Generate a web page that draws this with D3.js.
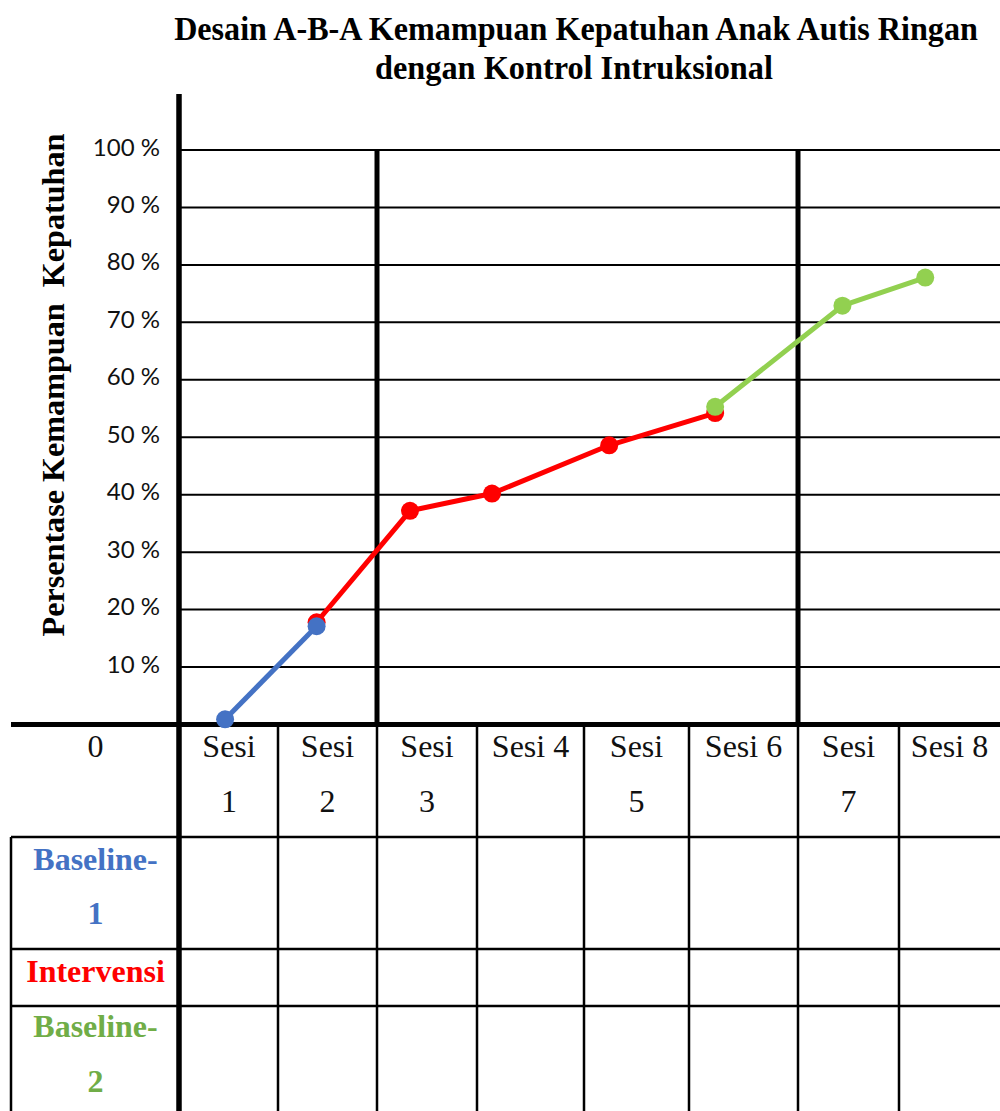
<!DOCTYPE html>
<html>
<head>
<meta charset="utf-8">
<script src="https://cdn.jsdelivr.net/npm/d3@7"></script>
<style>
  body { margin: 0; background: #fff; }
  svg { display: block; }
</style>
</head>
<body>
<svg id="chart" width="1000" height="1111"></svg>
<script>
// ---------------- DATA ----------------
const titleLines = ["Desain A-B-A Kemampuan Kepatuhan Anak Autis Ringan", "dengan Kontrol Intruksional"];
const yAxisTitle = "Persentase Kemampuan  Kepatuhan";
const yTicks = [10, 20, 30, 40, 50, 60, 70, 80, 90, 100];
const yTickLabels = ["10 %", "20 %", "30 %", "40 %", "50 %", "60 %", "70 %", "80 %", "90 %", "100 %"];
const originLabel = "0";
const sessionHeaders = [["Sesi", "1"], ["Sesi", "2"], ["Sesi", "3"], ["Sesi 4"], ["Sesi", "5"], ["Sesi 6"], ["Sesi", "7"], ["Sesi 8"]];
const phaseNames = [["Baseline-", "1"], ["Intervensi"], ["Baseline-", "2"]];
// where each session's marker sits along the session axis (column index + fraction)
const sessionMarkerPos = [0.46, 1.39, 2.33, 3.14, 4.24, 5.24, 6.44, 7.26];
// phase boundaries (between sessions 2|3 and 6|7)
const phaseBoundaries = [2, 6];
// series values (%)
const baseline1Sessions = [0, 1];
const baseline1Values = [0.9, 17.1];
const intervensiSessions = [1, 2, 3, 4, 5];
const intervensiValues = [17.8, 37.2, 40.2, 48.6, 54.2];
const baseline2Sessions = [5, 6, 7];
const baseline2Values = [55.3, 72.9, 77.8];

// ---------------- LAYOUT ----------------
const svg = d3.select("#chart");
const colors = { b1: "#4472C4", iv: "#FF0000", b2: "#92D050", b2text: "#70AD47" };
const labelColors = [colors.b1, colors.iv, colors.b2text];

// session axis: column edges of the table
const x = d3.scaleLinear()
  .domain(d3.range(0, 9))
  .range([180, 278, 377, 477, 584, 689, 798, 899, 1000]);
const y = d3.scaleLinear().domain([0, 100]).range([724.5, 150]);

const tableLeft = 11, tableRight = 1000;
const rowEdges = [724.5, 837, 949, 1006, 1111];

const serif = "'Liberation Serif', 'Times New Roman', serif";

// text squeezed horizontally to a given width (in its own frame)
function fittedText(parent, str, cx, cy, rotate, size, width) {
  const g = parent.append("g").attr("transform", `translate(${cx},${cy}) rotate(${rotate})`);
  const t = g.append("text")
    .attr("text-anchor", "middle")
    .attr("font-family", serif).attr("font-weight", "bold").attr("font-size", size)
    .style("white-space", "pre")
    .text(str);
  const w = t.node().getComputedTextLength();
  t.attr("transform", `scale(${width / w},1)`);
  return t;
}

// ---------------- TITLE ----------------
fittedText(svg, titleLines[0], 576, 40, 0, 34, 804);
fittedText(svg, titleLines[1], 574, 79, 0, 34, 398);

// ---------------- Y AXIS TITLE ----------------
fittedText(svg, yAxisTitle, 63.5, 385, -90, 32, 503);

// ---------------- GRIDLINES ----------------
svg.append("g").selectAll("line")
  .data(yTicks).join("line")
  .attr("x1", x(0)).attr("x2", x(8))
  .attr("y1", d => y(d)).attr("y2", d => y(d))
  .attr("stroke", "#000").attr("stroke-width", 2);

// tick labels
svg.append("g").selectAll("text")
  .data(yTicks).join("text")
  .attr("x", 160).attr("y", d => y(d) + 5.5)
  .attr("text-anchor", "end")
  .attr("font-family", "Lato, Calibri, sans-serif").attr("font-size", 24)
  .attr("fill", "#111")
  .text((d, i) => yTickLabels[i]);

// phase change lines
svg.append("g").selectAll("line")
  .data(phaseBoundaries).join("line")
  .attr("x1", d => x(d)).attr("x2", d => x(d))
  .attr("y1", y(100) - 1).attr("y2", y(0))
  .attr("stroke", "#000").attr("stroke-width", 5);

// ---------------- TABLE ----------------
const table = svg.append("g");
table.selectAll("line.row")
  .data(rowEdges.slice(1, 4)).join("line")
  .attr("class", "row")
  .attr("x1", tableLeft).attr("x2", tableRight)
  .attr("y1", d => d).attr("y2", d => d)
  .attr("stroke", "#000").attr("stroke-width", 2.5);
table.append("line")
  .attr("x1", tableLeft).attr("x2", tableLeft)
  .attr("y1", rowEdges[1]).attr("y2", rowEdges[4])
  .attr("stroke", "#000").attr("stroke-width", 2.5);
table.selectAll("line.col")
  .data(d3.range(1, 8)).join("line")
  .attr("class", "col")
  .attr("x1", d => x(d)).attr("x2", d => x(d))
  .attr("y1", rowEdges[0]).attr("y2", rowEdges[4])
  .attr("stroke", "#000").attr("stroke-width", 2.5);

const headerG = table.append("g")
  .attr("font-family", serif).attr("font-size", 32).attr("fill", "#111")
  .attr("text-anchor", "middle");
headerG.append("text").attr("x", (tableLeft + x(0)) / 2).attr("y", 757).text(originLabel);
sessionHeaders.forEach((lines, i) => {
  lines.forEach((t, j) => {
    headerG.append("text")
      .attr("x", (x(i) + x(i + 1)) / 2)
      .attr("y", 757 + j * 55)
      .text(t);
  });
});

const phaseBaselines = [[870, 924], [981.5], [1037, 1092]];
phaseNames.forEach((lines, i) => {
  lines.forEach((t, j) => {
    table.append("text")
      .attr("x", (tableLeft + x(0)) / 2)
      .attr("y", phaseBaselines[i][j])
      .attr("text-anchor", "middle")
      .attr("font-family", serif).attr("font-weight", "bold").attr("font-size", 32)
      .attr("fill", labelColors[i])
      .text(t);
  });
});

// main axes (thick)
svg.append("line")
  .attr("x1", tableLeft).attr("x2", tableRight)
  .attr("y1", y(0)).attr("y2", y(0))
  .attr("stroke", "#000").attr("stroke-width", 5);
svg.append("line")
  .attr("x1", x(0) - 1).attr("x2", x(0) - 1)
  .attr("y1", 94).attr("y2", 1111)
  .attr("stroke", "#000").attr("stroke-width", 5.5);

// ---------------- SERIES ----------------
function drawSeries(sessions, values, color) {
  const pts = sessions.map((s, i) => [x(sessionMarkerPos[s]), y(values[i])]);
  const g = svg.append("g");
  g.append("path")
    .attr("d", d3.line()(pts))
    .attr("fill", "none").attr("stroke", color).attr("stroke-width", 5)
    .attr("stroke-linejoin", "round");
  g.selectAll("circle").data(pts).join("circle")
    .attr("cx", d => d[0]).attr("cy", d => d[1]).attr("r", 9)
    .attr("fill", color);
}
drawSeries(intervensiSessions, intervensiValues, colors.iv);
drawSeries(baseline1Sessions, baseline1Values, colors.b1);
drawSeries(baseline2Sessions, baseline2Values, colors.b2);
</script>
</body>
</html>
